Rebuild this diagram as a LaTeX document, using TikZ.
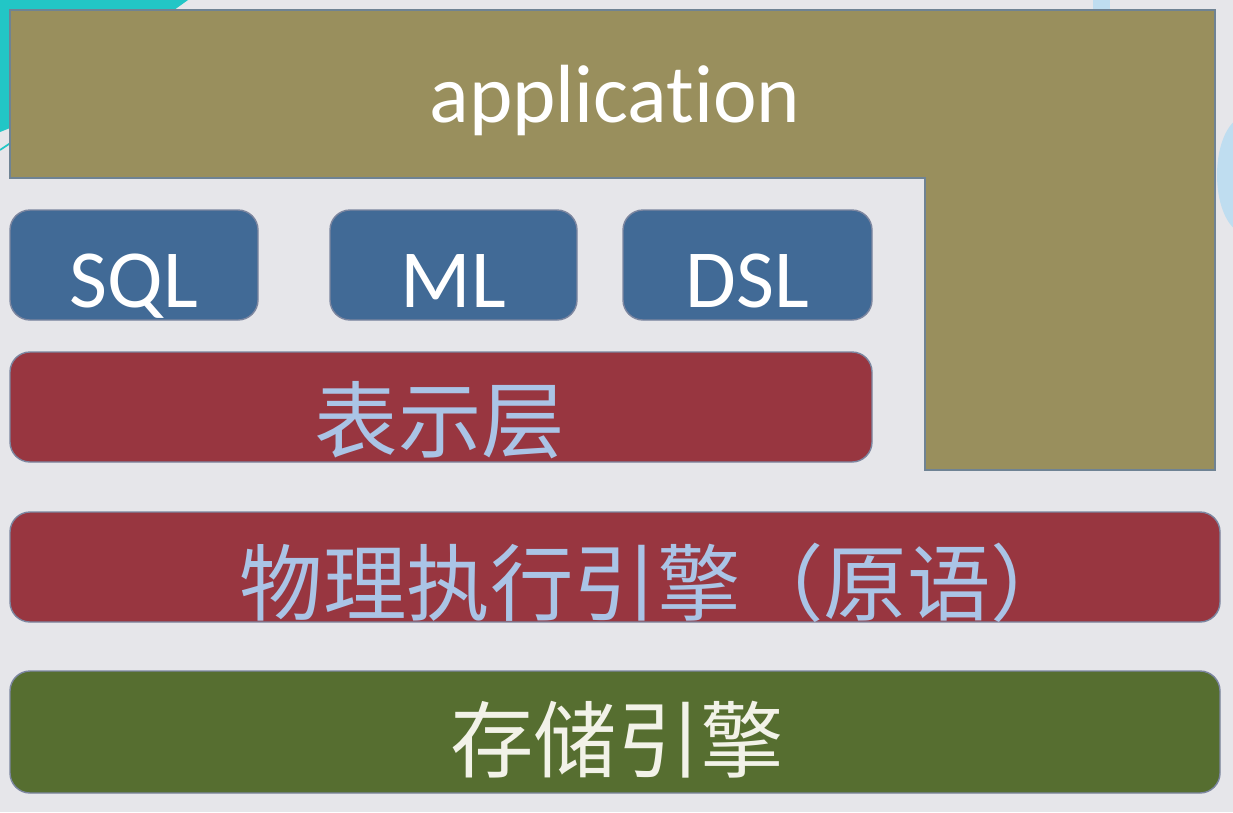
\documentclass[tikz,border=0pt]{standalone}
\usepackage{fontspec}
\setmainfont{Carlito}[Ligatures={NoCommon}]
\newfontfamily\cjk{Noto Sans CJK SC}
\definecolor{bgc}{HTML}{E6E6EA}
\definecolor{cyanbg}{HTML}{22C6C6}
\definecolor{lblue}{HTML}{BFDDF0}
\definecolor{olive}{HTML}{998F5D}
\definecolor{oliveedge}{HTML}{6F8394}
\definecolor{bluebox}{HTML}{416A96}
\definecolor{redbox}{HTML}{983640}
\definecolor{greenbox}{HTML}{566E30}
\definecolor{shadowc}{HTML}{7C86A0}
\definecolor{cjktext}{HTML}{AAC4E6}
\definecolor{cjkwhite}{HTML}{F2F2E8}
\tikzset{
  layerbox/.style={rectangle, rounded corners=20*0.02cm, inner sep=0pt, draw=shadowc, line width=0.8pt},
  blueb/.style={layerbox, fill=bluebox},
  redb/.style={layerbox, fill=redbox},
  greenb/.style={layerbox, fill=greenbox},
  latin/.style={text=white, anchor=base, inner sep=0pt, font=\fontsize{47}{56}\selectfont},
  cjklabel/.style={anchor=base, inner sep=0pt, font=\cjk\fontsize{47.5}{56}\selectfont},
}
\begin{document}
\begin{tikzpicture}[x=0.02cm,y=-0.02cm]
\useasboundingbox (0,0) rectangle (1233,812);
\fill[bgc] (0,0) rectangle (1233,812);
% slide background decorations
\fill[cyanbg] (0,0) -- (188,0) -- (10,128) -- (0,132) -- cycle;
\draw[cyanbg, line width=1pt] (0,150) -- (12,142);
\fill[lblue] (1093,0) rectangle (1110,10);
\fill[lblue] (1245,175) ellipse (28 and 58);
% application L-shape
\draw[fill=olive, draw=oliveedge, line width=1.2pt]
  (10,10) -- (1215,10) -- (1215,470) -- (925,470) -- (925,178) -- (10,178) -- cycle;
\node[latin] (app) at (615,122) {application};
% language boxes
\node[blueb, minimum width=248*0.02cm, minimum height=110*0.02cm] (sqlbox) at (134,265) {};
\node[blueb, minimum width=247*0.02cm, minimum height=110*0.02cm] (mlbox) at (453.5,265) {};
\node[blueb, minimum width=249*0.02cm, minimum height=110*0.02cm] (dslbox) at (747.5,265) {};
\node[latin] (sql) at (134,307) {SQL};
\node[latin] (ml) at (453.5,307) {ML};
\node[latin] (dsl) at (747.5,307) {DSL};
% presentation layer
\node[redb, minimum width=862*0.02cm, minimum height=110*0.02cm] (reprbox) at (441,407) {};
\node[cjklabel, text=cjktext] (repr) at (440,451) {表示层};
% physical execution engine
\node[redb, minimum width=1210*0.02cm, minimum height=110*0.02cm] (physbox) at (615,567) {};
\node[cjklabel, text=cjktext] (phys) at (657,614) {物理执行引擎（原语）};
% storage engine
\node[greenb, minimum width=1210*0.02cm, minimum height=122*0.02cm] (storbox) at (615,732) {};
\node[cjklabel, text=cjkwhite] (stor) at (617,771) {存储引擎};
\end{tikzpicture}
\end{document}
